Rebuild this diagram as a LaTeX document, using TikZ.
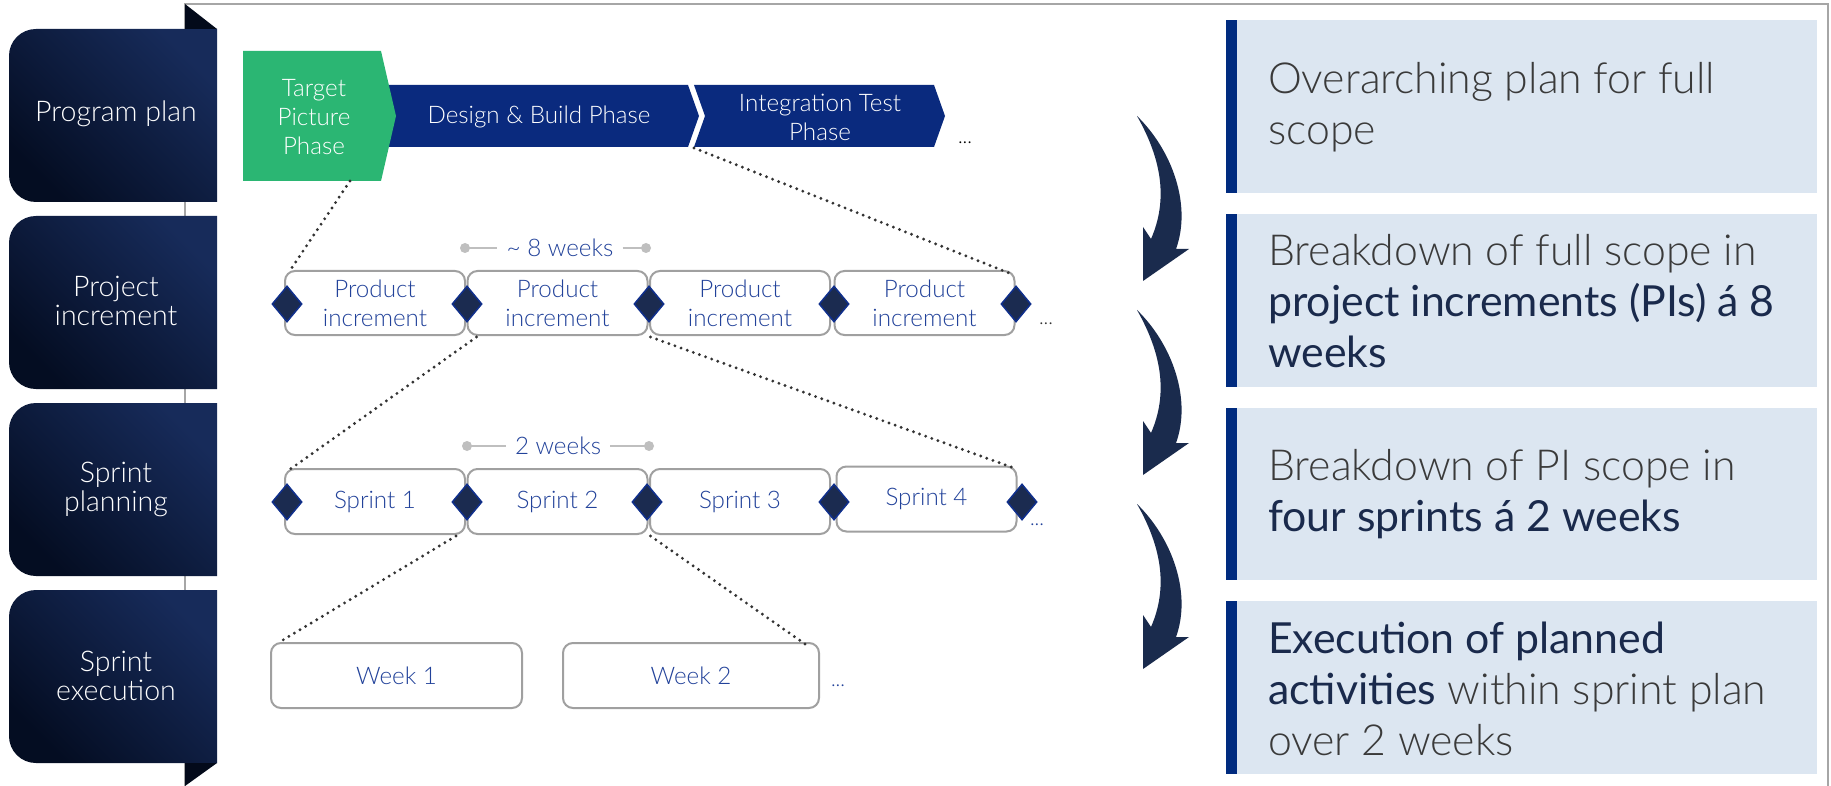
\documentclass[tikz,border=0pt]{standalone}
\usepackage{fontspec}
\usetikzlibrary{shapes.geometric,calc}
\setmainfont{Lato}
\IfFontExistsTF{Lato Light}{\newfontfamily\lightf{Lato Light}}{\newfontfamily\lightf{Lato}}
\newfontfamily\regf{Lato}
\definecolor{lbtop}{HTML}{172B5A}
\definecolor{lbbot}{HTML}{040D22}
\definecolor{folddark}{HTML}{030A1A}
\definecolor{tgreen}{HTML}{2BB673}
\definecolor{bandblue}{HTML}{0A2A7E}
\definecolor{txtblue}{HTML}{22429A}
\definecolor{boxgray}{HTML}{A0A0A0}
\definecolor{diafill}{HTML}{1B2B50}
\definecolor{diaborder}{HTML}{0F2F8C}
\definecolor{dotgray}{HTML}{333333}
\definecolor{wgray}{HTML}{BFBFBF}
\definecolor{rbfill}{HTML}{DCE6F1}
\definecolor{rbbar}{HTML}{002B7F}
\definecolor{rgray}{HTML}{3A3A3A}
\definecolor{rnavy}{HTML}{1A2A4C}
\definecolor{arrowfill}{HTML}{1A2B4D}
\definecolor{framegray}{HTML}{A6A6A6}
\newcommand\leftTab[2]{%
  \path[top color=lbtop, bottom color=lbbot, shading angle=-45]
    (217,#1) -- (36,#1) .. controls (21,#1) and (9,{#1+12}) .. (9,{#1+27})
    -- (9,{#2-27}) .. controls (9,{#2-12}) and (21,#2) .. (36,#2) -- (217,#2) -- cycle;}
\begin{document}
\begin{tikzpicture}[x=1pt,y=-1pt,
  lbl/.style={text=white, font=\lightf\fontsize{28.5}{29}\selectfont, align=center, inner sep=0pt},
  mid/.style={font=\lightf\fontsize{24.2}{29}\selectfont, align=center, inner sep=0pt},
  wmid/.style={mid, text=white},
  bluetxt/.style={mid, text=txtblue},
  pbox/.style={draw=boxgray, line width=2pt, rounded corners=10pt, fill=white,
    minimum height=64pt, minimum width=180pt, bluetxt},
  dia/.style={diamond, draw=diaborder, fill=diafill, line width=1.5pt,
    minimum width=30pt, minimum height=36pt, inner sep=0pt},
  conn/.style={draw=dotgray, line width=3.2pt, line cap=round, dash pattern=on 0pt off 6.5pt},
  wline/.style={draw=wgray, line width=2pt},
  rtxt/.style={anchor=west, align=left, inner sep=0pt, text=rgray,
    font=\lightf\fontsize{42.8}{51}\selectfont},
  dotsn/.style={font=\lightf\fontsize{20}{20}\selectfont, inner sep=0pt},
  ]
\useasboundingbox (0,0) rectangle (1831,786);
\fill[white] (0,0) rectangle (1831,786);
% frame
\draw[framegray, line width=1.5pt] (185,786) -- (185,4) -- (1828,4) -- (1828,786);
% left tabs
\leftTab{29}{202}
\leftTab{216}{389}
\leftTab{403}{576}
\leftTab{590}{763}
\fill[folddark] (185,4) -- (217,29) -- (185,29) -- cycle;
\fill[folddark] (185,763) -- (217,763) -- (185,786) -- cycle;
\node[lbl] (lab1) at (116,114) {Program plan};
\node[lbl] (lab2) at (116,301) {Project\\increment};
\node[lbl] (lab3) at (116,489) {Sprint\\planning};
\node[lbl] (lab4) at (116,676) {Sprint\\execution};
% phases
\fill[bandblue] (370,85) -- (688,85) -- (699,116) -- (688,147) -- (370,147) -- cycle;
\fill[bandblue] (694,85) -- (934,85) -- (945,116) -- (934,147) -- (694,147) -- (705,116) -- cycle;
\fill[tgreen] (243,51) -- (381,51) -- (396,116) -- (381,181) -- (243,181) -- cycle;
\node[wmid] (tp) at (314,117) {Target\\Picture\\Phase};
\node[wmid] (db) at (539,117) {Design \& Build Phase};
\node[wmid] (it) at (820,117) {Integration Test\\Phase};
\node[dotsn, text=black] (d1) at (965,143) {...};
\coordinate (tpbot) at (350,181);
\coordinate (itbl) at (694,148);
% PI row
\node[pbox] (pi1) at (375,303) {Product\\increment};
\node[pbox] (pi2) at (557.5,303) {Product\\increment};
\node[pbox] (pi3) at (740,303) {Product\\increment};
\node[pbox] (pi4) at (924.5,303) {Product\\increment};
\foreach \x/\n in {287/a,467/b,649/c,834/d,1016/e}{\node[dia] (pd\n) at (\x,304) {};}
\node[dotsn, text=dotgray] (d2) at (1046,324) {...};
\node[bluetxt] (w8) at (560,248) {\textasciitilde\ 8 weeks};
\coordinate (w8l) at (465,248);
\coordinate (w8r) at (646,248);
\draw[wline] (w8l) -- ([xshift=-9pt]w8.west);
\draw[wline] ([xshift=9pt]w8.east) -- (w8r);
\fill[wgray] (w8l) circle (5pt) (w8r) circle (5pt);
% Sprint row
\node[pbox, minimum height=65pt] (sp1) at (375,501.5) {Sprint 1};
\node[pbox, minimum height=65pt] (sp2) at (557.5,501.5) {Sprint 2};
\node[pbox, minimum height=65pt] (sp3) at (740,501.5) {Sprint 3};
\node[pbox, minimum height=65pt] (sp4) at (926.5,499) {Sprint 4};
\foreach \x/\n in {287/a,467/b,647/c,834/d,1022/e}{\node[dia] (sd\n) at (\x,502) {};}
\node[dotsn, text=txtblue] (d3) at (1037,525) {...};
\node[bluetxt] (w2) at (558,446) {2 weeks};
\coordinate (w2l) at (467,446);
\coordinate (w2r) at (649,446);
\draw[wline] (w2l) -- ([xshift=-9pt]w2.west);
\draw[wline] ([xshift=9pt]w2.east) -- (w2r);
\fill[wgray] (w2l) circle (5pt) (w2r) circle (5pt);
% Weeks row
\node[pbox, minimum height=65pt, minimum width=251pt] (wk1) at (396.5,675.5) {Week 1};
\node[pbox, minimum height=65pt, minimum width=256pt] (wk2) at (691,675.5) {Week 2};
\node[dotsn, text=txtblue] (d4) at (838,686) {...};
% connectors
\draw[conn] (tpbot) -- ([shift={(5,2)}]pi1.north west);
\draw[conn] (itbl) -- ([shift={(-4,4)}]pi4.north east);
\draw[conn] ([shift={(10,1)}]pi2.south west) -- ([shift={(5,2)}]sp1.north west);
\draw[conn] ([shift={(2,1)}]pi2.south east) -- ([shift={(-5,2)}]sp4.north east);
\draw[conn] ([shift={(-10,1)}]sp1.south east) -- ([shift={(8,1)}]wk1.north west);
\draw[conn] ([shift={(2,1)}]sp2.south east) -- ([shift={(-15,2)}]wk2.north east);
% right boxes
\foreach \t/\b in {20/193,214/387,408/580,601/774}{
  \fill[rbfill] (1226,\t) rectangle (1817,\b);
  \fill[rbbar] (1226,\t) rectangle (1237,\b);
}
\node[rtxt] (r1) at (1268,107) {Overarching plan for full\\scope};
\node[rtxt] (r2) at (1268,301) {Breakdown of full scope in\\{\regf\color{rnavy}project increments (PIs) á 8}\\{\regf\color{rnavy}weeks}};
\node[rtxt] (r3) at (1268,494) {Breakdown of PI scope in\\{\regf\color{rnavy}four sprints á 2 weeks}};
\node[rtxt] (r4) at (1268,689) {{\regf\color{rnavy}Execution of planned}\\{\regf\color{rnavy}activities} within sprint plan\\over 2 weeks};
% curved arrows
\foreach \dy in {0,194,388}{
  \begin{scope}[shift={(0,\dy)}]
  \fill[arrowfill] (1137,116) .. controls (1172,150) and (1192,205) .. (1176,249)
    -- (1189,249) -- (1143,281) -- (1143,227) -- (1151,239)
    .. controls (1168,200) and (1162,160) .. (1137,116) -- cycle;
  \end{scope}
}
\end{tikzpicture}
\end{document}
